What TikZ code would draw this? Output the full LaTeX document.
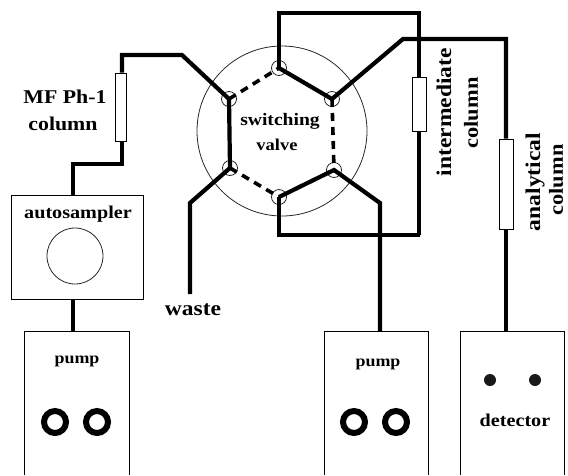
\documentclass[tikz,border=0pt]{standalone}
\usepackage{fontspec}
\setmainfont{Liberation Serif}[FakeStretch=1.12]
\newcommand{\fsz}[1]{\bfseries\fontsize{#1}{#1}\selectfont}
\begin{document}
\begin{tikzpicture}[x=1pt,y=-1pt,
  pipe/.style={line width=4.2pt,line join=miter},
  dashpipe/.style={line width=3.6pt,dash pattern=on 8pt off 6pt},
  thin line/.style={line width=0.8pt,draw=black!85},
  port/.style={circle,thin line,minimum size=15pt,inner sep=0pt},
  column/.style={draw=black,line width=1pt,fill=white,inner sep=0pt},
  unit/.style={inner sep=0pt},
  lab/.style={align=center,inner sep=0pt,text=black},
  ring/.style={circle,draw=black,line width=6pt,minimum size=22pt,inner sep=0pt},
  dot/.style={circle,fill=black!90,minimum size=12pt,inner sep=0pt}]
\useasboundingbox (0,0) rectangle (568,475);
% valve
\node[circle,thin line,minimum size=170pt,inner sep=0pt] (valve) at (282,131) {};
\node[port] (pT)  at (279,68) {};
\node[port] (pUR) at (332,99) {};
\node[port] (pLR) at (334,170) {};
\node[port] (pB)  at (279,197) {};
\node[port] (pLL) at (230,168) {};
\node[port] (pUL) at (229,99) {};
% units
\node[unit,minimum width=132pt,minimum height=104pt,draw=black,line width=1pt] (auto) at (77,247) {};
\node[circle,thin line,minimum size=56pt,inner sep=0pt] (autoc) at (75,256) {};
\node[unit,minimum width=104pt,minimum height=143pt] (pumpL) at (77,403.5) {};
\node[unit,minimum width=103pt,minimum height=143pt] (pumpR) at (376.5,403.5) {};
\node[unit,minimum width=103pt,minimum height=143pt] (det) at (512.5,403.5) {};
\draw[line width=1pt] (pumpL.south west)--(pumpL.north west)--(pumpL.north east)--(pumpL.south east);
\draw[line width=1pt] (pumpR.south west)--(pumpR.north west)--(pumpR.north east)--(pumpR.south east);
\draw[line width=1pt] (det.south west)--(det.north west)--(det.north east)--(det.south east);
% columns
\node[column,minimum width=11pt,minimum height=68pt] (cMF) at (120.5,107) {};
\node[column,minimum width=14pt,minimum height=54pt] (cInt) at (419,104) {};
\node[column,minimum width=14pt,minimum height=90pt] (cAna) at (506,184) {};
% free corners
\coordinate (a1) at (279,13);
\coordinate (a2) at (419,13);
\coordinate (b1) at (420,235);
\coordinate (b2) at (279,235);
\coordinate (c1) at (403,39);
\coordinate (c2) at (506,39);
\coordinate (d1) at (380,203);
\coordinate (e1) at (182,55);
\coordinate (e2) at (122,55);
\coordinate (f1) at (122,164);
\coordinate (f2) at (73,164);
\coordinate (g1) at (190,203);
\coordinate (g2) at (190,294);
% solid connectors
\draw[pipe] (pT.center) -- (a1) -- (a2) -- (cInt.north);
\draw[pipe] (cInt.south) -- (cInt.south |- b1) -- (b1) -- (b2) -- (pB.center);
\draw[pipe] (pT.center) -- (pUR.center) -- (c1) -- (c2) -- (cAna.north);
\draw[pipe] (cAna.south) -- (cAna.south |- det.north);
\draw[pipe] (pB.center) -- (pLR.center) -- (d1) -- (d1 |- pumpR.north);
\draw[pipe] (pLL.center) -- (pUL.center) -- (e1) -- (e2) -- (e2 |- cMF.north);
\draw[pipe] (f1 |- cMF.south) -- (f1) -- (f2) -- (f2 |- auto.north);
\draw[pipe] (auto.south -| f2) -- (f2 |- pumpL.north);
\draw[pipe] (pLL.center) -- (g1) -- (g2);
% dashed connectors
\draw[dashpipe] (pUL.center) -- (pT.center);
\draw[dashpipe] (pUR.center) -- (pLR.center);
\draw[dashpipe] (pLL.center) -- (pB.center);
% pump and detector parts
\node[ring] (r1) at (55,422) {};
\node[ring] (r2) at (97,422) {};
\node[ring] (r3) at (354,422) {};
\node[ring] (r4) at (396,422) {};
\node[dot] (d1n) at (490,380) {};
\node[dot] (d2n) at (535,380) {};
% labels
\node[lab,font=\fsz{17.5}] (tS) at (280,121) {switching};
\node[lab,font=\fsz{16.5}] (tV) at (277,145) {valve};
\node[lab,font=\fsz{19.5}] (tM) at (65,97) {MF Ph-1};
\node[lab,font=\fsz{19.5}] (tC) at (63,124) {column};
\node[lab,font=\fsz{18}] (tA) at (78,214) {autosampler};
\node[lab,font=\fsz{21}] (tW) at (193,310) {waste};
\node[lab,font=\fsz{16}] (tP1) at (77,361) {pump};
\node[lab,font=\fsz{16}] (tP2) at (378,364) {pump};
\node[lab,font=\fsz{18}] (tD) at (515,420) {detector};
\node[lab,font=\fsz{21},rotate=90] (tI) at (444,112) {intermediate};
\node[lab,font=\fsz{20},rotate=90] (tI2) at (471,113) {column};
\node[lab,font=\fsz{21},rotate=90] (tN) at (535,182) {analytical};
\node[lab,font=\fsz{20},rotate=90] (tN2) at (556,180) {column};
\end{tikzpicture}
\end{document}
